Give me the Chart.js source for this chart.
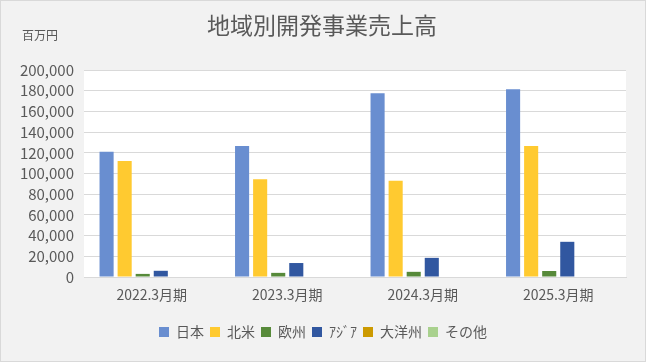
<!DOCTYPE html>
<html>
<head>
<meta charset="utf-8">
<script src="https://cdn.jsdelivr.net/npm/chart.js@4"></script>
<style>
  body { margin: 0; }
  .wrap {
    width: 646px; height: 362px; box-sizing: border-box;
    border: 1px solid #d9d9d9; background: #f2f2f2;
  }
</style>
</head>
<body>
<div class="wrap"><canvas id="chart" width="644" height="360"></canvas></div>
<script>
const categories = ['2022.3月期', '2023.3月期', '2024.3月期', '2025.3月期'];
const japan = [121000, 126500, 177500, 181500];
const northAmerica = [112000, 94500, 93000, 126500];
const europe = [3000, 4000, 5000, 5800];
const asia = [6000, 13500, 18500, 34000];
const oceania = [0, 0, 0, 0];
const others = [0, 0, 0, 0];
const yMax = 200000;
const yStep = 20000;

Chart.defaults.font.family = '"Noto Sans CJK JP", "Noto Sans", sans-serif';
Chart.defaults.color = '#595959';

// white plot area, plus the title and unit label drawn by hand
const decor = {
    id: 'decor',
    beforeDraw(chart) {
        const a = chart.chartArea;
        const ctx = chart.ctx;
        ctx.save();
        ctx.fillStyle = '#ffffff';
        ctx.fillRect(a.left, a.top, a.right - a.left, a.bottom - a.top);
        ctx.restore();
    },
    afterDraw(chart) {
        const ctx = chart.ctx;
        ctx.save();
        ctx.fillStyle = '#595959';
        ctx.textAlign = 'center';
        ctx.textBaseline = 'middle';
        ctx.font = '23px "Noto Sans CJK JP"';
        ctx.fillText('地域別開発事業売上高', 321, 24);
        ctx.font = '12px "Noto Sans CJK JP"';
        ctx.fillText('百万円', 39, 34);
        ctx.restore();
    }
};

new Chart(document.getElementById('chart').getContext('2d'), {
    type: 'bar',
    data: {
        labels: categories,
        datasets: [
            { label: '日本', data: japan, backgroundColor: '#698ed0' },
            { label: '北米', data: northAmerica, backgroundColor: '#ffca30' },
            { label: '欧州', data: europe, backgroundColor: '#578a3a' },
            { label: 'ｱｼﾞｱ', data: asia, backgroundColor: '#3157a0' },
            { label: '大洋州', data: oceania, backgroundColor: '#cc9a00' },
            { label: 'その他', data: others, backgroundColor: '#a9d18e' }
        ]
    },
    options: {
        responsive: false,
        animation: false,
        layout: { padding: { top: 69, right: 19, bottom: 12, left: 19 } },
        datasets: { bar: { categoryPercentage: 0.8, barPercentage: 0.78 } },
        scales: {
            x: {
                grid: { display: false, drawTicks: false },
                border: { color: '#d9d9d9' },
                ticks: { padding: 9, font: { size: 14 } },
                afterFit(scale) { scale.height = 42; }
            },
            y: {
                min: 0,
                max: yMax,
                ticks: {
                    stepSize: yStep,
                    autoSkip: false,
                    padding: 10,
                    font: { size: 15 },
                    callback: v => v.toLocaleString('en-US')
                },
                grid: { color: '#d9d9d9', drawTicks: false },
                border: { display: false },
                afterFit(scale) { scale.width = 64; }
            }
        },
        plugins: {
            legend: {
                position: 'bottom',
                labels: { boxWidth: 10, boxHeight: 10, padding: 6, font: { size: 14 } }
            },
            tooltip: { enabled: false }
        }
    },
    plugins: [decor]
});
</script>
</body>
</html>
